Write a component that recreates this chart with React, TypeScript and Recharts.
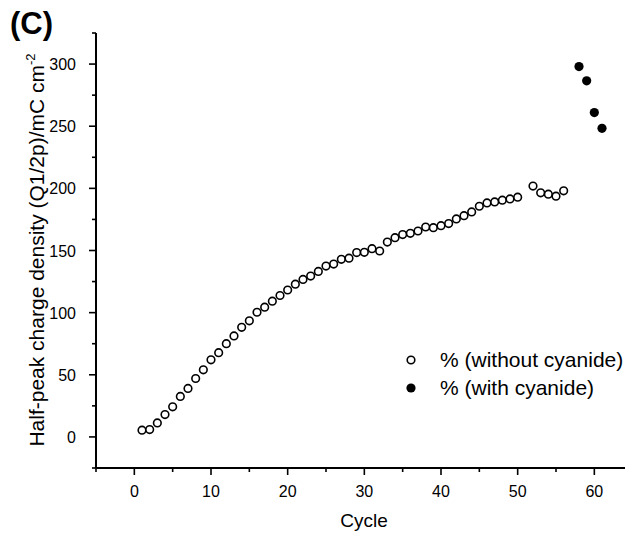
import React from "react"
import { ScatterChart, Scatter, XAxis, YAxis, Customized } from "recharts"

// Open circles: cycles run without cyanide
const cyclesWithout = [
  1, 2, 3, 4, 5, 6, 7, 8, 9, 10, 11, 12, 13, 14, 15, 16, 17, 18, 19, 20, 21, 22, 23, 24, 25,
  26, 27, 28, 29, 30, 31, 32, 33, 34, 35, 36, 37, 38, 39, 40, 41, 42, 43, 44, 45, 46, 47, 48,
  49, 50, 52, 53, 54, 55, 56,
]
const valuesWithout = [
  5.4, 5.9, 11.3, 18, 24.2, 32.6, 39, 47, 54, 62, 67.8, 75, 81.3, 88.2, 93.4, 100.3, 104.4,
  109.2, 113.8, 118.2, 122.9, 126.7, 129.4, 133.2, 137.5, 139.1, 142.9, 143.8, 148.3, 148.5,
  151.5, 149.6, 156.8, 160.3, 162.8, 163.8, 165.7, 168.9, 168.4, 170, 171.7, 175.4, 178, 181,
  185.6, 188.3, 189.1, 190.5, 191.5, 192.9, 201.8, 196.4, 195.3, 193.7, 198,
]

// Filled circles: cycles with cyanide
const cyclesWith = [58, 59, 60, 61]
const valuesWith = [298, 286.5, 261, 248.3]

const xTicks = [-5, 0, 5, 10, 15, 20, 25, 30, 35, 40, 45, 50, 55, 60]
const yTicks = [-25, 0, 25, 50, 75, 100, 125, 150, 175, 200, 225, 250, 275, 300, 325]

const seriesNames = ["% (without cyanide)", "% (with cyanide)"]

const withoutData = cyclesWithout.map((c, i) => ({ cycle: c, value: valuesWithout[i] }))
const withData = cyclesWith.map((c, i) => ({ cycle: c, value: valuesWith[i] }))

const FONT = "Arial, 'Liberation Sans', sans-serif"

const OpenDot = (props: any) => (
  <circle cx={props.cx} cy={props.cy} r={3.8} fill="#fff" stroke="#000" strokeWidth={1.6} />
)
const FilledDot = (props: any) => <circle cx={props.cx} cy={props.cy} r={4.6} fill="#000" />

const XTick = (props: any) => {
  const { x, y, payload } = props
  const v = payload.value
  const major = v % 10 === 0 && v >= 0
  return (
    <g>
      <line x1={x} x2={x} y1={y} y2={y + (major ? 7 : 4)} stroke="#000" strokeWidth={1.6} />
      {major && (
        <text x={x} y={y + 29} textAnchor="middle" fontSize={16} fontFamily={FONT} fill="#000">
          {v}
        </text>
      )}
    </g>
  )
}

const YTick = (props: any) => {
  const { x, y, payload } = props
  const v = payload.value
  const major = v % 50 === 0 && v >= 0 && v <= 300
  return (
    <g>
      <line x1={x} x2={x - (major ? 7 : 4)} y1={y} y2={y} stroke="#000" strokeWidth={1.6} />
      {major && (
        <text x={x - 20} y={y + 6} textAnchor="end" fontSize={16} fontFamily={FONT} fill="#000">
          {v}
        </text>
      )}
    </g>
  )
}

// titles and legend drawn straight into the svg
const Titles = () => (
  <g fontFamily={FONT} fill="#000">
    <text x={10} y={34} fontSize={31} fontWeight="bold">
      (C)
    </text>
    <text x={364} y={527} fontSize={19} textAnchor="middle">
      Cycle
    </text>
    <text transform="translate(44, 250) rotate(-90)" fontSize={21} textAnchor="middle">
      Half-peak charge density (Q1/2p)/mC cm
      <tspan dy={-9} fontSize={13}>
        -2
      </tspan>
    </text>
    <circle cx={411} cy={360} r={3.8} fill="#fff" stroke="#000" strokeWidth={1.6} />
    <text x={440} y={367} fontSize={21}>
      {seriesNames[0]}
    </text>
    <circle cx={411} cy={388} r={4.6} fill="#000" />
    <text x={440} y={395} fontSize={21}>
      {seriesNames[1]}
    </text>
  </g>
)

export default function App() {
  return (
    <div style={{ position: "absolute", top: 0, left: 0, width: 625, height: 534, background: "#fff" }}>
      <ScatterChart width={625} height={534} margin={{ top: 33, right: 0, bottom: 65, left: 95 }}>
        <XAxis
          type="number"
          dataKey="cycle"
          domain={[-5, 64]}
          ticks={xTicks}
          interval={0}
          height={1}
          tickSize={0}
          tickMargin={0}
          tickLine={false}
          tick={<XTick />}
          axisLine={{ stroke: "#000", strokeWidth: 2 }}
          allowDataOverflow
        />
        <YAxis
          type="number"
          dataKey="value"
          domain={[-25, 325]}
          ticks={yTicks}
          interval={0}
          width={1}
          tickSize={0}
          tickMargin={0}
          tickLine={false}
          tick={<YTick />}
          axisLine={{ stroke: "#000", strokeWidth: 2 }}
          allowDataOverflow
        />
        <Scatter
          name={seriesNames[0]}
          data={withoutData}
          shape={<OpenDot />}
          isAnimationActive={false}
        />
        <Scatter
          name={seriesNames[1]}
          data={withData}
          shape={<FilledDot />}
          isAnimationActive={false}
        />
        <Customized component={<Titles />} />
      </ScatterChart>
    </div>
  )
}
